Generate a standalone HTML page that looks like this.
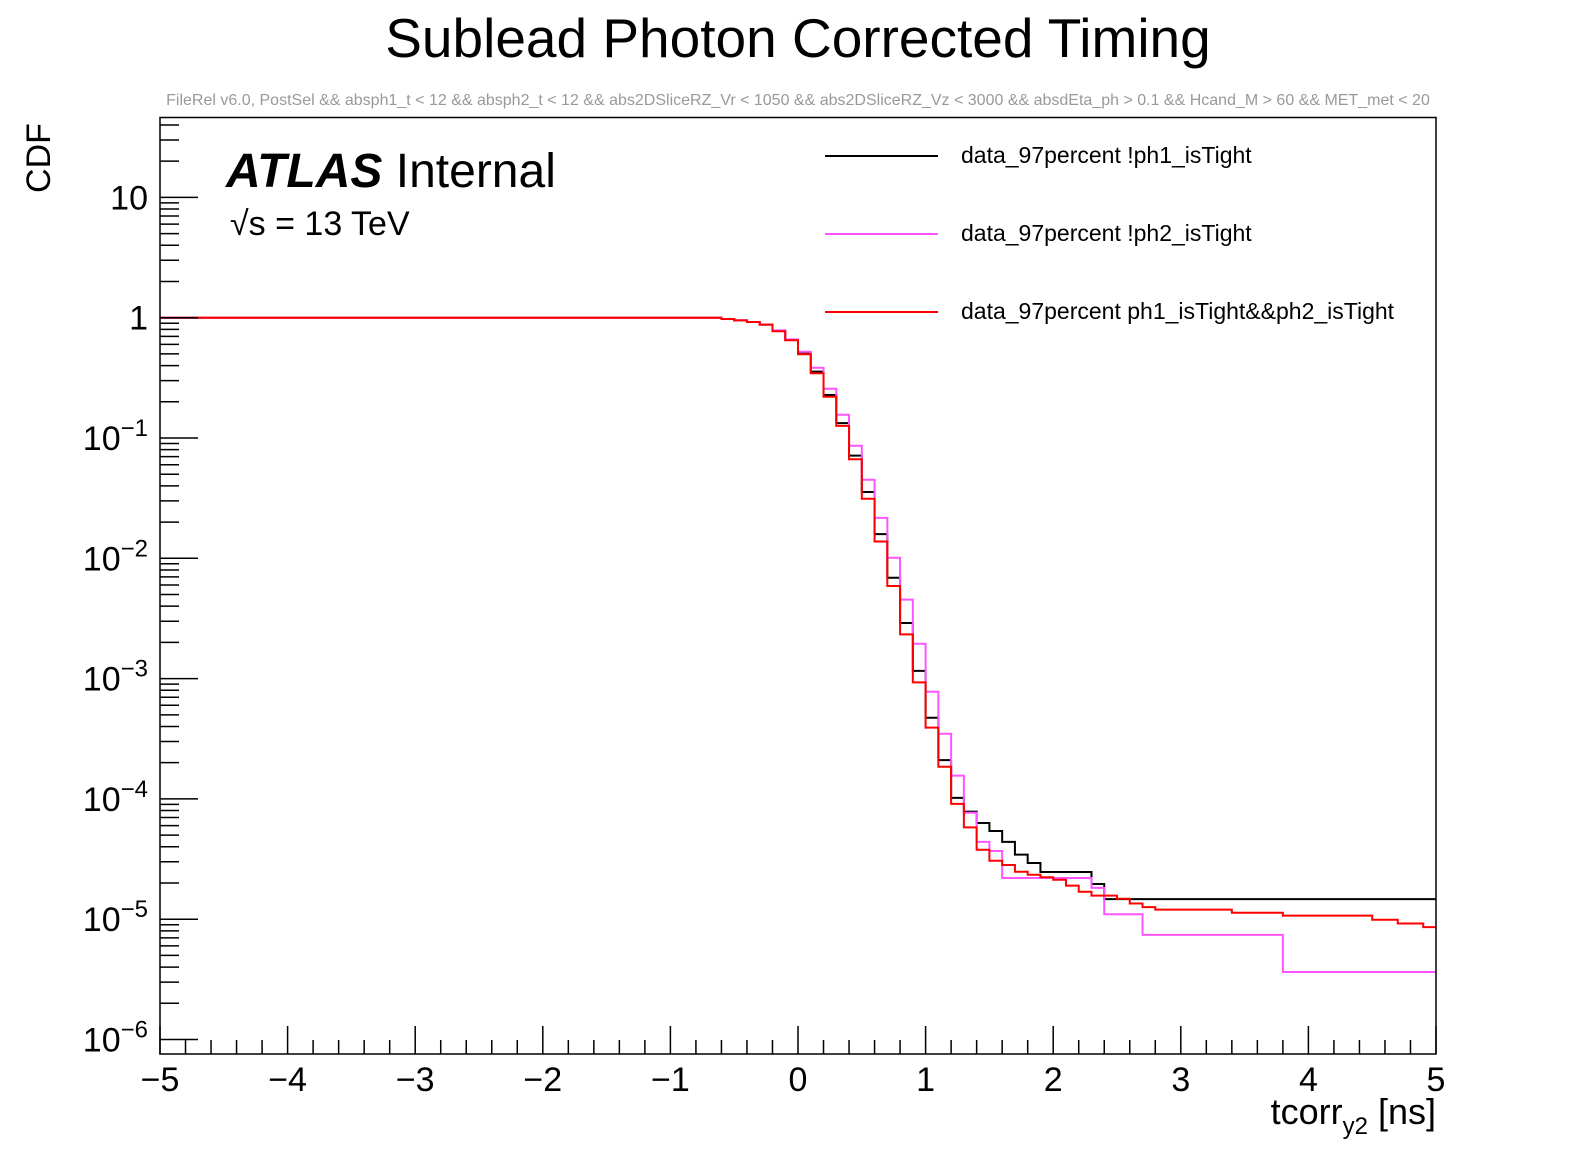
<!DOCTYPE html>
<html><head><meta charset="utf-8"><style>
html,body{margin:0;padding:0;background:#fff;}
svg{display:block;font-family:"Liberation Sans",sans-serif;}
</style></head><body>
<svg id="chart" width="1596" height="1172" viewBox="0 0 1596 1172" xmlns="http://www.w3.org/2000/svg">
<rect x="0" y="0" width="1596" height="1172" fill="#fff"/>
<text x="798" y="57" text-anchor="middle" font-size="55">Sublead Photon Corrected Timing</text>
<text x="798" y="105" text-anchor="middle" font-size="16" fill="#999">FileRel v6.0, PostSel &amp;&amp;  absph1_t &lt; 12 &amp;&amp; absph2_t &lt; 12 &amp;&amp; abs2DSliceRZ_Vr &lt; 1050 &amp;&amp; abs2DSliceRZ_Vz &lt; 3000 &amp;&amp; absdEta_ph &gt; 0.1 &amp;&amp; Hcand_M &gt; 60 &amp;&amp; MET_met &lt; 20</text>
<text transform="translate(50,158) rotate(-90)" text-anchor="middle" font-size="34">CDF</text>
<text x="1436" y="1124" text-anchor="end" font-size="36">tcorr<tspan font-size="24" dy="10">y2</tspan><tspan dy="-10"> [ns]</tspan></text>
<text x="226" y="187" font-size="48" font-weight="bold" font-style="italic">ATLAS<tspan font-weight="normal" font-style="normal"> Internal</tspan></text>
<text x="230" y="235" font-size="34">√s = 13 TeV</text>
<g id="series"></g>
<g id="axes"></g>
<rect x="160" y="117.5" width="1276" height="936.5" fill="none" stroke="#000" stroke-width="1.5"/>
<g>
<line x1="825" y1="156" x2="938" y2="156" stroke="#000" stroke-width="2"/>
<text x="961" y="163" font-size="23">data_97percent !ph1_isTight</text>
<line x1="825" y1="234" x2="938" y2="234" stroke="#ff55ff" stroke-width="2"/>
<text x="961" y="241" font-size="23">data_97percent !ph2_isTight</text>
<line x1="825" y1="312" x2="938" y2="312" stroke="#ff0000" stroke-width="2"/>
<text x="961" y="319" font-size="23">data_97percent ph1_isTight&amp;&amp;ph2_isTight</text>
</g>
</svg>
<script>
var ONES = Array(44).fill(1);
var blackValues = ONES.concat([0.975,0.951,0.920,0.875,0.776,0.653,
 0.506,0.356,0.228,0.133,0.0713,0.0356,0.0159,0.0069,0.0029,0.00116,
 4.73e-4,2.10e-4,1.02e-4,7.83e-5,6.31e-5,5.41e-5,4.39e-5,3.44e-5,2.93e-5,
 2.47e-5,2.47e-5,2.47e-5,2.47e-5,1.96e-5,
 1.47e-5,1.47e-5,1.47e-5,1.47e-5,1.47e-5,1.47e-5,1.47e-5,1.47e-5,1.47e-5,1.47e-5,1.47e-5,1.47e-5,1.47e-5,
 1.47e-5,1.47e-5,1.47e-5,1.47e-5,1.47e-5,1.47e-5,1.47e-5,1.47e-5,1.47e-5,1.47e-5,1.47e-5,1.47e-5,1.47e-5]);
var magentaValues = ONES.concat([0.975,0.951,0.920,0.875,0.785,0.661,
 0.521,0.384,0.257,0.156,0.0863,0.0450,0.0217,0.0101,0.00453,0.00195,
 7.78e-4,3.48e-4,1.56e-4,7.67e-5,4.39e-5,3.69e-5,
 2.2e-5,2.2e-5,2.2e-5,2.2e-5,2.2e-5,2.2e-5,2.2e-5,1.82e-5,
 1.10e-5,1.10e-5,1.10e-5,
 7.4e-6,7.4e-6,7.4e-6,7.4e-6,7.4e-6,7.4e-6,7.4e-6,7.4e-6,7.4e-6,7.4e-6,7.4e-6,
 3.64e-6,3.64e-6,3.64e-6,3.64e-6,3.64e-6,3.64e-6,3.64e-6,3.64e-6,3.64e-6,3.64e-6,3.64e-6,3.64e-6]);
var redValues = ONES.concat([0.975,0.951,0.920,0.875,0.771,0.649,
 0.497,0.345,0.220,0.126,0.0665,0.0313,0.0138,0.00589,0.00233,0.000931,
 3.91e-4,1.85e-4,9.1e-5,5.8e-5,3.78e-5,3.06e-5,2.82e-5,2.48e-5,2.34e-5,2.23e-5,2.13e-5,1.90e-5,1.69e-5,1.57e-5,1.57e-5,1.48e-5,1.35e-5,1.26e-5,
 1.2e-5,1.2e-5,1.2e-5,1.2e-5,1.2e-5,1.2e-5,
 1.13e-5,1.13e-5,1.13e-5,1.13e-5,
 1.07e-5,1.07e-5,1.07e-5,1.07e-5,1.07e-5,1.07e-5,1.07e-5,
 9.9e-6,9.9e-6,9.2e-6,9.2e-6,8.6e-6]);
var xTicks = [-5,-4,-3,-2,-1,0,1,2,3,4,5];
var xTickLabels = ["\u22125","\u22124","\u22123","\u22122","\u22121","0","1","2","3","4","5"];
var yDecades = [1,0,-1,-2,-3,-4,-5,-6];
var xMin = -5, xMax = 5, binWidth = 0.1;
var X0 = 160, X1 = 1436, Y1 = 317.7, DEC = 120.3, YT = 117.5, YB = 1054;
var NS = 'http://www.w3.org/2000/svg';
function xs(v){ return X0 + (v - xMin) / (xMax - xMin) * (X1 - X0); }
function ys(v){ return Y1 - Math.log10(v) * DEC; }
function mk(tag, attrs, parent){ var e = document.createElementNS(NS, tag); for (var k in attrs) e.setAttribute(k, attrs[k]); parent.appendChild(e); return e; }
var sg = document.getElementById('series');
function drawSeries(vals, color, name){
  var d = '';
  for (var i = 0; i < vals.length; i++){
    var xa = xs(xMin + i * binWidth), xb = xs(xMin + (i + 1) * binWidth), y = ys(vals[i]);
    d += (i === 0 ? 'M' : 'L') + xa.toFixed(2) + ',' + y.toFixed(2) + 'L' + xb.toFixed(2) + ',' + y.toFixed(2);
  }
  var p = mk('path', {d: d, fill: 'none', stroke: color, 'stroke-width': 2}, sg);
  
  
}
drawSeries(blackValues, '#000000', 'series-not-ph1-tight');
drawSeries(magentaValues, '#ff55ff', 'series-not-ph2-tight');
drawSeries(redValues, '#ff0000', 'series-both-tight');
var ag = document.getElementById('axes');
for (var t = 0; t <= 50; t++){
  var v = xMin + t * 0.2, x = xs(v), major = (t % 5 === 0);
  var l = mk('line', {x1: x, x2: x, y1: YB, y2: YB - (major ? 28 : 14), stroke: '#000', 'stroke-width': 1.5}, ag);
  
  
}
for (var i = 0; i < xTicks.length; i++){
  var tx = mk('text', {x: xs(xTicks[i]), y: 1091, 'text-anchor': 'middle', 'font-size': 34}, ag);
  tx.textContent = xTickLabels[i];
  
  
}
for (var j = 0; j < yDecades.length; j++){
  var dcd = yDecades[j];
  for (var m = 1; m <= 9; m++){
    var val = m * Math.pow(10, dcd), y = ys(val);
    if (y < YT || y > YB) continue;
    var lt = mk('line', {x1: X0, x2: X0 + (m === 1 ? 38 : 19), y1: y, y2: y, stroke: '#000', 'stroke-width': 1.5}, ag);
    
    
  }
  var yl = ys(Math.pow(10, dcd));
  var lab = mk('text', {x: 148, y: yl + 12, 'text-anchor': 'end', 'font-size': 34}, ag);
  if (dcd === 1) lab.textContent = '10';
  else if (dcd === 0) lab.textContent = '1';
  else { lab.textContent = '10'; var sp = mk('tspan', {dy: -14, 'font-size': 24}, lab); sp.textContent = '\u2212' + (-dcd); }
  
  
}
</script>
</body></html>
